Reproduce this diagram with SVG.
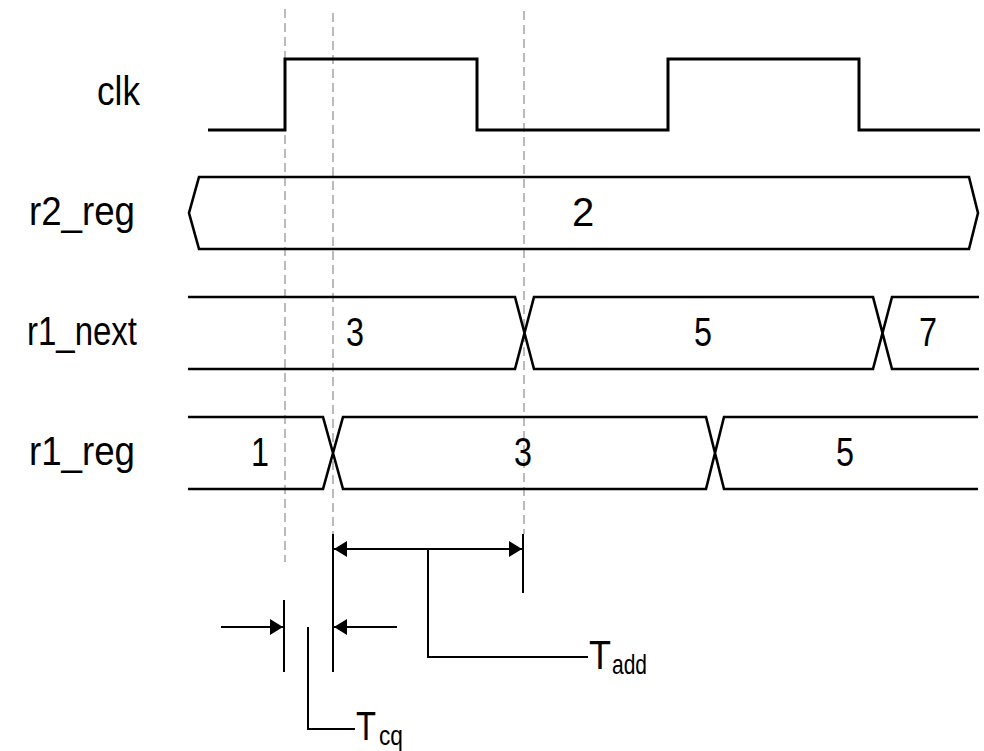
<svg xmlns="http://www.w3.org/2000/svg" width="984" height="751" viewBox="0 0 984 751">
<defs>
<style>
.sig{fill:none;stroke:#000;stroke-width:3;stroke-linejoin:miter}
.bus{fill:none;stroke:#000;stroke-width:2.6;stroke-linejoin:miter}
.dash{fill:none;stroke:#aaa;stroke-width:1.6;stroke-dasharray:9 5}
.dim{fill:none;stroke:#000;stroke-width:2}
.lbl{font-family:"Liberation Sans Narrow","Liberation Sans",Arial,sans-serif;font-size:40px;fill:#000}
.val{font-family:"Liberation Sans Narrow","Liberation Sans",Arial,sans-serif;font-size:40px;fill:#000;text-anchor:middle}
.sub{font-family:"Liberation Sans Narrow","Liberation Sans",Arial,sans-serif;font-size:28px;fill:#000}
</style>
<marker id="ah" viewBox="0 0 13 16" refX="13" refY="8" markerWidth="13" markerHeight="16" markerUnits="userSpaceOnUse" orient="auto">
<path d="M0,0 L13,8 L0,16 Z" fill="#000"/>
</marker>
</defs>
<rect width="984" height="751" fill="#fff"/>

<g id="guides">
<line class="dash" x1="285" y1="9" x2="285" y2="562"/>
<line class="dash" x1="333" y1="13" x2="333" y2="534"/>
<line class="dash" x1="524" y1="11" x2="524" y2="534"/>
</g>

<g id="clk">
<text class="lbl" x="140" y="105" text-anchor="end" textLength="43" lengthAdjust="spacingAndGlyphs">clk</text>
<path class="sig" d="M208,130 H285 V59 H477 V130 H668 V59 H859 V130 H980"/>
</g>

<g id="r2_reg">
<text class="lbl" x="135" y="225" text-anchor="end" textLength="106" lengthAdjust="spacingAndGlyphs">r2_reg</text>
<path class="bus" d="M199,177 H969 L978,213 L969,249 H199 L189,213 Z"/>
<text class="val" x="583" y="226">2</text>
</g>

<g id="r1_next">
<text class="lbl" x="137" y="345" text-anchor="end" textLength="110" lengthAdjust="spacingAndGlyphs">r1_next</text>
<path class="bus" d="M188,297 H515 L534,369 H873 L892,297 H979 M188,369 H515 L534,297 H873 L892,369 H979"/>
<text class="val" x="355" y="346" textLength="18" lengthAdjust="spacingAndGlyphs">3</text>
<text class="val" x="703" y="346" textLength="18" lengthAdjust="spacingAndGlyphs">5</text>
<text class="val" x="928" y="346" textLength="18" lengthAdjust="spacingAndGlyphs">7</text>
</g>

<g id="r1_reg">
<text class="lbl" x="135" y="465" text-anchor="end" textLength="106" lengthAdjust="spacingAndGlyphs">r1_reg</text>
<path class="bus" d="M188,417 H323 L343,489 H706 L724,417 H978 M188,489 H323 L343,417 H706 L724,489 H978"/>
<text class="val" x="260" y="466" textLength="18" lengthAdjust="spacingAndGlyphs">1</text>
<text class="val" x="523" y="466" textLength="18" lengthAdjust="spacingAndGlyphs">3</text>
<text class="val" x="845" y="466" textLength="18" lengthAdjust="spacingAndGlyphs">5</text>
</g>

<g id="connectors">
<line class="dim" x1="333" y1="534" x2="333" y2="672"/>
<line class="dim" x1="523" y1="534" x2="523" y2="593"/>
<line class="dim" x1="428" y1="549" x2="334" y2="549" marker-end="url(#ah)"/>
<line class="dim" x1="428" y1="549" x2="522" y2="549" marker-end="url(#ah)"/>
<path class="dim" d="M428,549 V657 H588"/>
<line class="dim" x1="284" y1="600" x2="284" y2="672"/>
<line class="dim" x1="221" y1="627" x2="283" y2="627" marker-end="url(#ah)"/>
<line class="dim" x1="397" y1="627" x2="334" y2="627" marker-end="url(#ah)"/>
<path class="dim" d="M308,627 V729 H355"/>
</g>

<g id="Tadd">
<text class="lbl" x="589" y="669" textLength="22" lengthAdjust="spacingAndGlyphs">T</text>
<text class="sub" x="612" y="674" textLength="35" lengthAdjust="spacingAndGlyphs">add</text>
</g>
<g id="Tcq">
<text class="lbl" x="356" y="740" textLength="20" lengthAdjust="spacingAndGlyphs">T</text>
<text class="sub" x="379" y="745" textLength="24" lengthAdjust="spacingAndGlyphs">cq</text>
</g>
</svg>
